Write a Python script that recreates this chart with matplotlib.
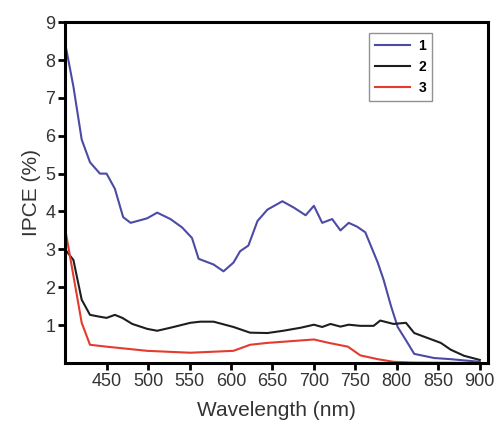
import numpy as np
from matplotlib import pyplot as plt

plt.rcParams['font.family'] = ['Liberation Sans', 'DejaVu Sans']

# IPCE spectra
wl_1 = [400, 410, 420, 430, 442, 450, 460, 470, 479, 499, 511, 527, 541, 553, 561, 579, 591,
        603, 611, 621, 632, 644, 662, 676, 690, 700, 710, 722, 732, 742, 752, 762, 777, 784,
        793, 801, 811, 821, 845, 865, 900]
ipce_1 = [8.45, 7.3, 5.9, 5.3, 5.0, 5.0, 4.6, 3.85, 3.7, 3.82, 3.97, 3.8, 3.58, 3.3, 2.75, 2.6, 2.42,
          2.65, 2.95, 3.1, 3.75, 4.05, 4.27, 4.1, 3.9, 4.15, 3.7, 3.8, 3.5, 3.7, 3.6, 3.45, 2.65, 2.2,
          1.5, 0.95, 0.6, 0.24, 0.13, 0.1, 0.03]

wl_2 = [400, 410, 420, 430, 442, 450, 460, 469, 481, 499, 511, 527, 551, 563, 579, 603, 623,
        644, 663, 684, 700, 710, 720, 732, 742, 756, 772, 780, 796, 811, 821, 837, 853, 865,
        881, 900]
ipce_2 = [3.0, 2.72, 1.67, 1.27, 1.22, 1.19, 1.27, 1.19, 1.03, 0.9, 0.85, 0.93, 1.06, 1.09, 1.09, 0.95, 0.8,
          0.79, 0.85, 0.93, 1.01, 0.95, 1.03, 0.96, 1.01, 0.98, 0.98, 1.12, 1.03, 1.06, 0.79, 0.66, 0.53, 0.35,
          0.19, 0.08]

wl_3 = [400, 420, 430, 450, 499, 551, 603, 623, 644, 663, 700, 718, 741, 756, 777, 796, 820, 900]
ipce_3 = [3.55, 1.06, 0.48, 0.43, 0.32, 0.27, 0.32, 0.48, 0.53, 0.56, 0.62, 0.53, 0.43, 0.2, 0.1, 0.03, 0.01, 0.0]

labels = ['1', '2', '3']
colors = ['#4b4ba6', '#1e1e1e', '#e53a2e']

fig = plt.figure(figsize=(4.97, 4.26), dpi=100)
ax = fig.add_axes([0.131, 0.148, 0.851, 0.800])

for x, y, lab, c in zip([wl_1, wl_2, wl_3], [ipce_1, ipce_2, ipce_3], labels, colors):
    ax.plot(x, y, color=c, linewidth=1.5, label=lab)

ax.set_xlim(400, 910)
ax.set_ylim(0, 9)
ax.set_xticks(np.arange(450, 901, 50))
ax.set_yticks(np.arange(1, 10, 1))
ax.tick_params(direction='out', length=5, width=2, labelsize=13, labelcolor='#333333', pad=2)
for s in ax.spines.values():
    s.set_linewidth(2.2)
ax.set_xlabel('Wavelength (nm)', fontsize=15, color='#333333', labelpad=8)
ax.set_ylabel('IPCE (%)', fontsize=15, color='#333333', labelpad=3)

leg = ax.legend(loc='upper right', bbox_to_anchor=(0.885, 0.99), frameon=True, fancybox=False,
                edgecolor='#777777', handlelength=2.5, fontsize=10, borderpad=0.45, labelspacing=0.5,
                handletextpad=0.6)
for t in leg.get_texts():
    t.set_fontweight('bold')

plt.savefig('out.png', dpi=100)
